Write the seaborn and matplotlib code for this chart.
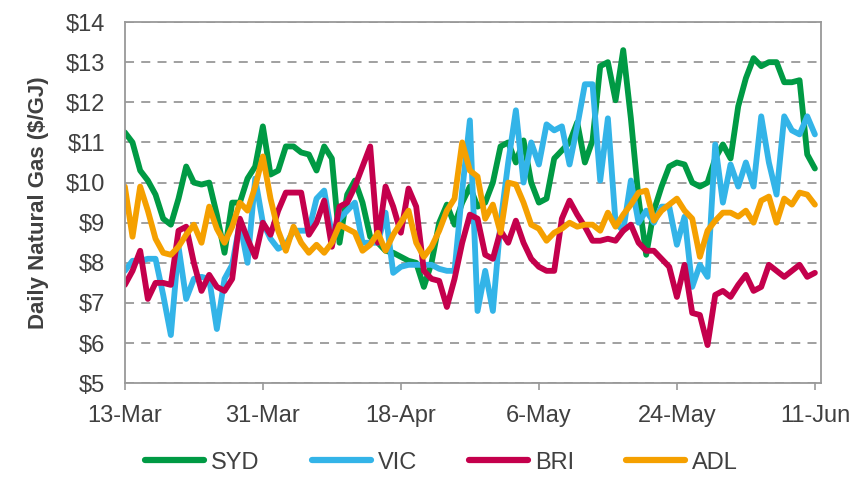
import numpy as np
import pandas as pd
import matplotlib
matplotlib.use("Agg")
import matplotlib.pyplot as plt
import seaborn as sns

# daily prices, 13-Mar .. 11-Jun ($/GJ)
syd = [11.25, 11.0, 10.3, 10.05, 9.7, 9.1, 8.95, 9.6, 10.4, 10.0,
       9.95, 10.0, 9.2, 8.25, 9.5, 9.5, 10.1, 10.4, 11.4, 10.2,
       10.3, 10.9, 10.9, 10.75, 10.7, 10.3, 10.9, 10.6, 8.5, 9.7,
       10.05, 9.5, 8.65, 8.5, 8.3, 8.25, 8.15, 8.05, 8.0, 7.4,
       8.0, 9.0, 9.45, 8.95, 9.5, 9.9, 9.4, 9.5, 10.0, 10.9,
       11.0, 10.5, 11.05, 10.0, 9.5, 9.6, 10.6, 10.8, 11.0, 11.5,
       10.5, 11.05, 12.9, 13.0, 12.05, 13.3, 11.6, 9.6, 8.2, 9.3,
       9.9, 10.4, 10.5, 10.45, 10.0, 9.9, 10.0, 10.6, 10.95, 10.6,
       11.9, 12.6, 13.1, 12.9, 13.0, 13.0, 12.5, 12.5, 12.55, 10.7,
       10.35]
vic = [7.8, 8.05, 8.05, 8.1, 8.1, 7.2, 6.2, 8.4, 7.1, 7.6,
       7.65, 7.6, 6.35, 7.6, 7.95, 9.0, 8.0, 10.1, 9.0, 8.6,
       8.35, 8.45, 8.8, 8.8, 8.8, 9.6, 9.8, 8.7, 9.1, 9.3,
       9.5, 8.5, 8.5, 8.5, 9.25, 7.75, 7.9, 7.95, 7.95, 7.95,
       7.95, 7.85, 7.8, 7.8, 9.8, 11.55, 6.8, 7.8, 6.8, 9.0,
       10.5, 11.8, 10.0, 11.0, 10.45, 11.45, 11.3, 11.4, 10.45, 11.4,
       12.45, 12.45, 10.05, 11.6, 9.0, 8.8, 10.05, 9.0, 9.3, 9.0,
       9.4, 9.4, 8.45, 9.15, 7.4, 7.95, 7.65, 10.95, 9.5, 10.45,
       9.9, 10.5, 9.9, 11.65, 10.5, 9.7, 11.65, 11.3, 11.2, 11.65,
       11.2]
bri = [7.45, 7.8, 8.3, 7.1, 7.5, 7.5, 7.45, 8.8, 8.9, 8.0,
       7.3, 7.7, 7.4, 7.3, 7.6, 9.1, 8.6, 8.15, 9.0, 8.7,
       9.3, 9.75, 9.75, 9.75, 8.7, 9.0, 9.55, 8.4, 9.4, 9.5,
       9.9, 10.4, 10.9, 8.5, 9.9, 9.4, 8.75, 9.85, 9.4, 7.8,
       7.6, 7.55, 6.9, 7.6, 8.5, 9.2, 9.1, 8.2, 8.1, 8.8,
       8.5, 9.05, 8.5, 8.1, 7.9, 7.8, 7.8, 9.1, 9.55, 9.2,
       8.9, 8.55, 8.55, 8.6, 8.55, 8.8, 8.95, 8.5, 8.3, 8.3,
       8.1, 7.9, 7.15, 7.95, 6.75, 6.7, 5.95, 7.2, 7.3, 7.15,
       7.45, 7.7, 7.3, 7.4, 7.95, 7.8, 7.65, 7.8, 7.95, 7.65,
       7.75]
adl = [9.9, 8.65, 9.9, 9.3, 8.6, 8.25, 8.2, 8.4, 8.7, 8.95,
       8.5, 9.4, 8.85, 8.5, 8.9, 9.5, 9.3, 9.9, 10.65, 9.6,
       8.8, 8.3, 8.9, 8.5, 8.25, 8.45, 8.25, 8.5, 8.95, 8.85,
       8.75, 8.3, 8.45, 8.75, 8.3, 8.7, 9.0, 9.3, 8.5, 8.15,
       8.4, 8.8, 9.3, 9.6, 11.0, 10.3, 10.15, 9.1, 9.45, 8.75,
       10.0, 9.95, 9.5, 8.95, 8.85, 8.55, 8.75, 8.85, 9.0, 8.9,
       8.95, 8.95, 8.8, 9.25, 8.9, 9.2, 9.45, 9.75, 9.8, 9.05,
       9.3, 9.45, 9.6, 9.3, 9.1, 8.15, 8.8, 9.05, 9.25, 9.25,
       9.15, 9.3, 9.0, 9.55, 9.65, 9.0, 9.6, 9.45, 9.75, 9.7,
       9.45]

series = ["SYD", "VIC", "BRI", "ADL"]
colors = ["#009A44", "#33B4E8", "#C4004C", "#F5A000"]
tick_labels = ["13-Mar", "31-Mar", "18-Apr", "6-May", "24-May", "11-Jun"]
y_ticks = list(range(5, 15))

dates = pd.date_range("2019-03-13", periods=len(syd), freq="D")
df = pd.DataFrame({"date": dates, "SYD": syd, "VIC": vic, "BRI": bri, "ADL": adl})
long_df = df.melt(id_vars="date", var_name="region", value_name="price")

sns.set_style("white")
plt.rcParams["font.family"] = ["Liberation Sans", "DejaVu Sans"]

fig = plt.figure(figsize=(8.61, 4.79), dpi=100)
ax = fig.add_axes([0.145, 0.2, 0.8085, 0.754])

sns.lineplot(data=long_df, x="date", y="price", hue="region", hue_order=series,
             palette=colors, linewidth=4.2, ax=ax, legend=True)
for ln in ax.lines:
    ln.set_solid_joinstyle("round")
    ln.set_solid_capstyle("round")

ax.set_ylim(5, 14)
ax.set_yticks(y_ticks)
ax.set_yticklabels([f"${v}" for v in y_ticks])
ax.set_xlim(dates[0], dates[-1] + pd.Timedelta(hours=19))
ax.set_xticks(dates[::18])
ax.set_xticklabels(tick_labels)

ax.yaxis.grid(True, color="#999999", linestyle=(0, (5, 4)), linewidth=1.3)
ax.set_axisbelow(True)
for s in ax.spines.values():
    s.set_color("#999999")
    s.set_linewidth(1.3)
ax.tick_params(axis="x", colors="#404040", labelsize=17, length=5, width=1.2,
               direction="out", pad=11, color="#999999", bottom=True)
ax.tick_params(axis="y", colors="#404040", labelsize=17, length=0, pad=14)

ax.set_xlabel("")
ax.set_ylabel("Daily Natural Gas ($/GJ)", fontsize=16, fontweight="bold",
              color="#404040", labelpad=12)

handles, labels = ax.get_legend_handles_labels()
ax.legend(handles, labels, loc="center", bbox_to_anchor=(0.455, -0.22),
          ncol=4, frameon=False, fontsize=17, handlelength=2.5,
          columnspacing=2.2, handletextpad=0.3, labelcolor="#404040")
for ln in ax.get_legend().get_lines():
    ln.set_linewidth(4.5)

fig.savefig("out.png", dpi=100)
